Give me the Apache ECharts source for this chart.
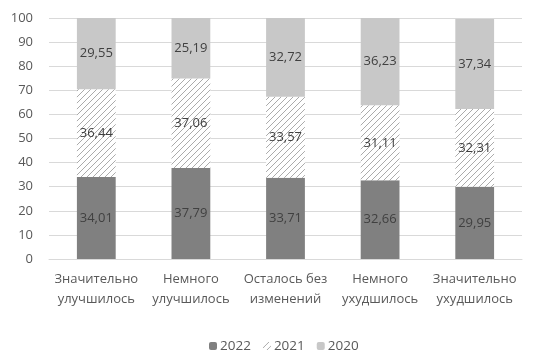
<!DOCTYPE html>
<html><head><meta charset="utf-8">
<script src="https://cdn.jsdelivr.net/npm/echarts@6/dist/echarts.min.js"></script>
<style>html,body{margin:0;padding:0;background:#fff}#c{width:533px;height:350px}</style>
</head><body><div id="c"></div>
<script>
var categories = ["Значительно\nулучшилось", "Немного\nулучшилось", "Осталось без\nизменений", "Немного\nухудшилось", "Значительно\nухудшилось"];
var s2022 = [34.01, 37.79, 33.71, 32.66, 29.95];
var s2021 = [36.44, 37.06, 33.57, 31.11, 32.31];
var s2020 = [29.55, 25.19, 32.72, 36.23, 37.34];
var yTicks = [0, 10, 20, 30, 40, 50, 60, 70, 80, 90, 100];

var cv = document.createElement('canvas');
cv.width = 6; cv.height = 6;
var cx = cv.getContext('2d');
cx.fillStyle = '#ffffff'; cx.fillRect(0,0,6,6);
cx.strokeStyle = '#ababab'; cx.lineWidth = 1;
cx.beginPath();
cx.moveTo(-1,7); cx.lineTo(7,-1);
cx.moveTo(-1,1); cx.lineTo(1,-1);
cx.moveTo(5,7); cx.lineTo(7,5);
cx.stroke();

var font = '"Open Sans", "Noto Sans", sans-serif';
function fmt(p){ return p.value.toFixed(2).replace('.', ','); }
var lbl = {show:true, position:'inside', color:'#404040', fontSize:13, fontFamily:font, formatter:fmt};

var chart = echarts.init(document.getElementById('c'), null, {renderer:'canvas'});
chart.setOption({
  animation:false,
  grid:{left:49, right:11, top:18, bottom:91},
  legend:{top:334, left:204, itemWidth:8, itemHeight:8, itemGap:12,
    textStyle:{color:'#595959', fontSize:13.5, fontFamily:font, padding:[0,0,0,-2]},
    data:['2022','2021','2020']},
  xAxis:{type:'category', data:categories,
    axisLine:{lineStyle:{color:'#d9d9d9'}}, axisTick:{show:false},
    axisLabel:{color:'#595959', fontSize:13, fontFamily:font, lineHeight:20, margin:10, interval:0}},
  yAxis:{type:'value', min:yTicks[0], max:yTicks[yTicks.length-1], interval:10,
    axisLine:{show:false}, axisTick:{show:false},
    axisLabel:{color:'#595959', fontSize:13, fontFamily:font, margin:16},
    splitLine:{lineStyle:{color:'#d9d9d9', width:1}}},
  series:[
    {name:'2022', type:'bar', stack:'a', data:s2022, barWidth:'41%', itemStyle:{color:'#808080'}, label:lbl},
    {name:'2021', type:'bar', stack:'a', data:s2021, itemStyle:{color:{image:cv, repeat:'repeat'}}, label:lbl},
    {name:'2020', type:'bar', stack:'a', data:s2020, itemStyle:{color:'#c8c8c8'}, label:lbl}
  ]
});
</script></body></html>
